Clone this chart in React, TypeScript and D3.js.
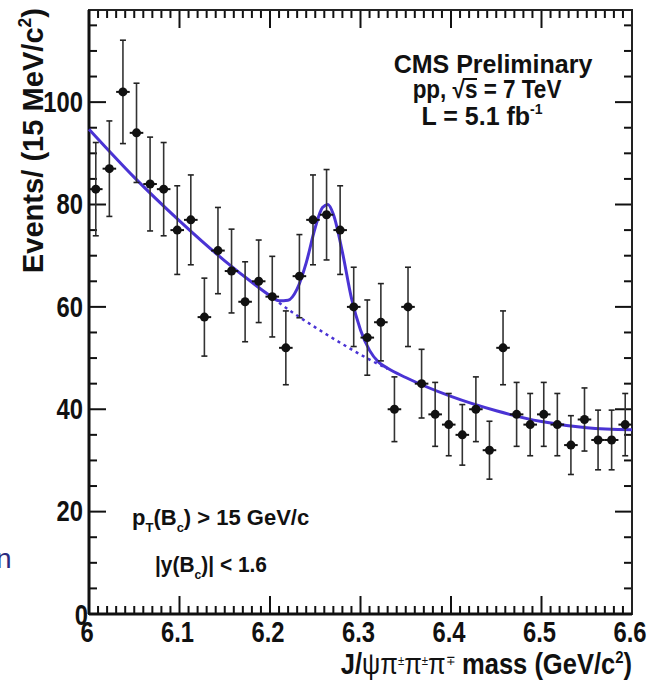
import React from "react";
import * as d3 from "d3";

const WIDTH = 647;
const HEIGHT = 681;
const LEFT = 89;
const RIGHT = 632;
const TOP = 10;
const BOTTOM = 614;

const FONT = "'Liberation Sans', Arial, Helvetica, sans-serif";
const CURVE = "#4a33d4";

// histogram: 40 bins of 15 MeV from 6.0 to 6.6 GeV
const binLow = 6.0;
const binWidth = 0.015;
const counts = [
  83, 87, 102, 94, 84, 83, 75, 77, 58, 71, 67, 61, 65, 62, 52, 66, 77, 78, 75, 60,
  54, 57, 40, 60, 45, 39, 37, 35, 40, 32, 52, 39, 37, 39, 37, 33, 38, 34, 34, 37,
];

// fitted signal + background
const fitX = [
  6.0, 6.05, 6.1, 6.15, 6.18, 6.2, 6.21, 6.22, 6.23, 6.24, 6.25, 6.258, 6.264,
  6.27, 6.28, 6.29, 6.3, 6.31, 6.32, 6.33, 6.35, 6.4, 6.45, 6.5, 6.55, 6.6,
];
const fitY = [
  94.7, 85.3, 76.8, 69.0, 64.8, 62.2, 61.2, 61.3, 63.5, 68.6, 75.5, 79.4, 80.0,
  78.1, 70.7, 61.7, 55.5, 51.5, 49.2, 48.0, 46.2, 42.5, 39.7, 37.6, 36.4, 36.0,
];
// background only, under the peak (dashed)
const bkgX = [6.21, 6.23, 6.25, 6.27, 6.29, 6.31, 6.33];
const bkgY = [60.8, 58.3, 56.0, 53.8, 51.7, 49.7, 47.9];

const yTickLabels = [0, 20, 40, 60, 80, 100];
const xTickLabels = [6, 6.1, 6.2, 6.3, 6.4, 6.5, 6.6];

const App = () => {
  const x = d3.scaleLinear().domain([6.0, 6.6]).range([LEFT, RIGHT]);
  const y = d3.scaleLinear().domain([0, 118]).range([BOTTOM, TOP]);

  const line = d3
    .line<[number, number]>()
    .x((d) => x(d[0]))
    .y((d) => y(d[1]))
    .curve(d3.curveMonotoneX);

  const fitPath = line(fitX.map((v, i) => [v, fitY[i]] as [number, number]));
  const bkgPath = line(bkgX.map((v, i) => [v, bkgY[i]] as [number, number]));

  // minor / major ticks
  const yMinor = d3.range(0, 118, 5);
  const xMinor = d3.range(0, 61).map((i) => 6 + i * 0.01);

  const halfBin = (x(binLow + binWidth) - x(binLow)) / 2;

  return (
    <svg
      width={WIDTH}
      height={HEIGHT}
      style={{ position: "absolute", left: 0, top: 0, background: "white" }}
      fontFamily={FONT}
    >
      <rect width={WIDTH} height={HEIGHT} fill="white" />

      {/* ticks */}
      {yMinor.map((v) => {
        const major = v % 20 === 0;
        const len = major ? 17 : 8;
        return (
          <g key={"yt" + v} stroke="#111" strokeWidth={2}>
            <line x1={LEFT} x2={LEFT + len} y1={y(v)} y2={y(v)} />
            <line x1={RIGHT} x2={RIGHT - len} y1={y(v)} y2={y(v)} />
          </g>
        );
      })}
      {xMinor.map((v, i) => {
        const major = i % 10 === 0;
        const len = major ? 18 : 8;
        return (
          <g key={"xt" + i} stroke="#111" strokeWidth={2}>
            <line x1={x(v)} x2={x(v)} y1={BOTTOM} y2={BOTTOM - len} />
            <line x1={x(v)} x2={x(v)} y1={TOP} y2={TOP + len} />
          </g>
        );
      })}

      {/* frame */}
      <rect
        x={LEFT}
        y={TOP}
        width={RIGHT - LEFT}
        height={BOTTOM - TOP}
        fill="none"
        stroke="#222"
        strokeWidth={2}
      />
      <line x1={LEFT} x2={LEFT} y1={TOP} y2={BOTTOM} stroke="#111" strokeWidth={3} />
      <line x1={LEFT} x2={RIGHT} y1={BOTTOM} y2={BOTTOM} stroke="#111" strokeWidth={3} />

      {/* fit */}
      <path d={bkgPath ?? ""} fill="none" stroke={CURVE} strokeWidth={2.5} strokeDasharray="3,4" />
      <path d={fitPath ?? ""} fill="none" stroke={CURVE} strokeWidth={3} />

      {/* data points */}
      {counts.map((n, i) => {
        const cx = x(binLow + (i + 0.5) * binWidth);
        const err = Math.sqrt(n);
        const yHi = y(n + err);
        const yLo = y(n - err);
        return (
          <g key={"p" + i}>
            <line x1={cx} x2={cx} y1={yHi} y2={yLo} stroke="#333" strokeWidth={1.6} />
            <line x1={cx - 3} x2={cx + 3} y1={yHi} y2={yHi} stroke="#222" strokeWidth={1.6} />
            <line x1={cx - 3} x2={cx + 3} y1={yLo} y2={yLo} stroke="#222" strokeWidth={1.6} />
            <line x1={cx - halfBin} x2={cx + halfBin} y1={y(n)} y2={y(n)} stroke="#111" strokeWidth={2} />
            <circle cx={cx} cy={y(n)} r={4.5} fill="#111" />
          </g>
        );
      })}

      {/* y tick labels */}
      {yTickLabels.map((v) => (
        <text
          key={"yl" + v}
          transform={`translate(${v === 0 ? LEFT - 1 : LEFT - 6},${y(v) + (v === 0 ? 1 : 0)}) scale(0.82,1)`}
          textAnchor="end"
          dominantBaseline="central"
          fontSize={29}
          fontWeight="bold"
          fill="#111"
        >
          {v}
        </text>
      ))}

      {/* x tick labels */}
      {xTickLabels.map((v) => (
        <text
          key={"xl" + v}
          transform={`translate(${x(v) - 2},${642}) scale(0.82,1)`}
          textAnchor="middle"
          fontSize={29}
          fontWeight="bold"
          fill="#111"
        >
          {v}
        </text>
      ))}

      {/* axis titles */}
      <text
        transform={`translate(43,8) rotate(-90) scale(0.97,1)`}
        textAnchor="end"
        fontSize={30}
        fontWeight="bold"
        fill="#111"
      >
        Events/ (15 MeV/c
        <tspan fontSize={18} dy={-12}>2</tspan>
        <tspan dy={12}>)</tspan>
      </text>
      <text
        transform={`translate(${RIGHT},674) scale(0.88,1)`}
        textAnchor="end"
        fontSize={29}
        fontWeight="bold"
        fill="#111"
      >
        J/<tspan fontWeight="normal">ψπ</tspan>
        <tspan fontSize={13} dy={-9} fontWeight="normal">±</tspan>
        <tspan dy={9} fontWeight="normal">π</tspan>
        <tspan fontSize={13} dy={-9} fontWeight="normal">±</tspan>
        <tspan dy={9} fontWeight="normal">π</tspan>
        <tspan fontSize={13} dy={-9} fontWeight="normal">∓</tspan>
        <tspan dy={9}> mass (GeV/c</tspan>
        <tspan fontSize={17} dy={-11}>2</tspan>
        <tspan dy={11}>)</tspan>
      </text>

      {/* annotations */}
      <g fontWeight="bold" fill="#111" textAnchor="middle">
        <text x={493} y={73} fontSize={25}>CMS Preliminary</text>
        <text transform="translate(487,98) scale(0.9,1)" fontSize={25}>
          pp, √s = 7 TeV
        </text>
        <line x1={463} x2={477} y1={79} y2={79} stroke="#111" strokeWidth={2} />
        <text x={482} y={125} fontSize={25}>
          L = 5.1 fb<tspan fontSize={14} dy={-11}>-1</tspan>
        </text>
      </g>
      <g fontWeight="bold" fill="#111" fontSize={22}>
        <text x={132} y={525}>
          p<tspan fontSize={13} dy={7}>T</tspan>
          <tspan dy={-7}>(B</tspan>
          <tspan fontSize={13} dy={7}>c</tspan>
          <tspan dy={-7}>) &gt; 15 GeV/c</tspan>
        </text>
        <text transform="translate(155,572) scale(0.95,1)">
          |y(B<tspan fontSize={13} dy={7}>c</tspan>
          <tspan dy={-7}>)| &lt; 1.6</tspan>
        </text>
      </g>

      {/* stray glyph at the left edge */}
      <text x={-4} y={568} fontSize={28} fill="#2a2a80" fontFamily={FONT}>
        n
      </text>
    </svg>
  );
};

export default App;
